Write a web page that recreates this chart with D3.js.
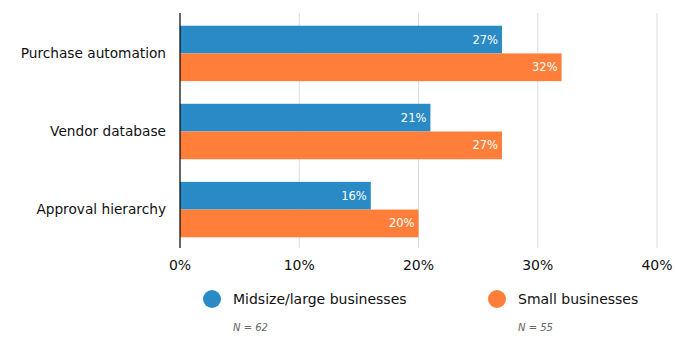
<!DOCTYPE html>
<html>
<head>
<meta charset="utf-8">
<script src="https://cdn.jsdelivr.net/npm/d3@7"></script>
<style>
  body { margin: 0; background: #fff; font-family: "DejaVu Sans", Verdana, sans-serif; }
</style>
</head>
<body>
<script>
// Chart data
var categories = ["Purchase automation", "Vendor database", "Approval hierarchy"];
var seriesNames = ["Midsize/large businesses", "Small businesses"];
var seriesNotes = ["N = 62", "N = 55"];
var midsizeValues = [27, 21, 16];
var smallValues = [32, 27, 20];
var tickValues = [0, 10, 20, 30, 40];
var colors = ["#2a8ac6", "#ff7f3a"];

var width = 675, height = 353;
var margin = {top: 13, left: 180, right: 18, bottom: 105};

var svg = d3.select("body").append("svg")
    .attr("width", width)
    .attr("height", height);

var x = d3.scaleLinear()
    .domain([0, 40])
    .range([margin.left, 657]);

var y = d3.scaleBand()
    .domain(categories)
    .range([margin.top + 1, height - margin.bottom + 1])
    .paddingInner(0.29)
    .paddingOuter(0.15);

var ySub = d3.scaleBand()
    .domain([0, 1])
    .range([0, y.bandwidth()]);

// gridlines
svg.append("g")
    .selectAll("line")
    .data(tickValues.slice(1))
    .enter().append("line")
    .attr("x1", d => x(d)).attr("x2", d => x(d))
    .attr("y1", margin.top).attr("y2", height - margin.bottom)
    .style("stroke", "#dcdcdc")
    .style("stroke-width", 1);

// bars
var rows = categories.map(function(c, i){
    return {cat: c, vals: [midsizeValues[i], smallValues[i]]};
});

var group = svg.selectAll(".grp")
    .data(rows)
    .enter().append("g")
    .attr("class", "grp")
    .attr("transform", d => "translate(0," + y(d.cat) + ")");

group.selectAll("rect")
    .data(d => d.vals)
    .enter().append("rect")
    .attr("x", x(0))
    .attr("y", (d, i) => ySub(i))
    .attr("width", d => x(d) - x(0))
    .attr("height", ySub.bandwidth())
    .style("fill", (d, i) => colors[i]);

group.selectAll(".val")
    .data(d => d.vals)
    .enter().append("text")
    .attr("class", "val")
    .attr("x", d => x(d) - 4)
    .attr("y", (d, i) => ySub(i) + ySub.bandwidth() / 2)
    .attr("dy", "0.35em")
    .attr("text-anchor", "end")
    .style("fill", "#fff")
    .style("font-size", "11.5px")
    .text(d => d + "%");

// category labels
svg.append("g")
    .selectAll("text")
    .data(categories)
    .enter().append("text")
    .attr("x", margin.left - 14)
    .attr("y", d => y(d) + y.bandwidth() / 2)
    .attr("dy", "0.35em")
    .attr("text-anchor", "end")
    .style("font-size", "13.7px")
    .style("fill", "#111")
    .text(d => d);

// axis line
svg.append("line")
    .attr("x1", x(0)).attr("x2", x(0))
    .attr("y1", margin.top).attr("y2", height - margin.bottom)
    .style("stroke", "#000")
    .style("stroke-width", 1.2);

// tick labels
svg.append("g")
    .selectAll("text")
    .data(tickValues)
    .enter().append("text")
    .attr("x", d => x(d))
    .attr("y", 270)
    .attr("text-anchor", "middle")
    .style("font-size", "14px")
    .style("fill", "#111")
    .text(d => d + "%");

// legend
var legendX = [212, 497];
var legend = svg.selectAll(".legend")
    .data(seriesNames)
    .enter().append("g")
    .attr("class", "legend")
    .attr("transform", (d, i) => "translate(" + legendX[i] + ",299)");

legend.append("circle")
    .attr("r", 9)
    .style("fill", (d, i) => colors[i]);

legend.append("text")
    .attr("x", 21)
    .attr("dy", "0.35em")
    .style("font-size", "14px")
    .style("fill", "#111")
    .text(d => d);

legend.append("text")
    .attr("x", 21)
    .attr("y", 28)
    .attr("dy", "0.35em")
    .style("font-size", "10px")
    .style("font-style", "italic")
    .style("fill", "#666")
    .text((d, i) => seriesNotes[i]);
</script>
</body>
</html>
